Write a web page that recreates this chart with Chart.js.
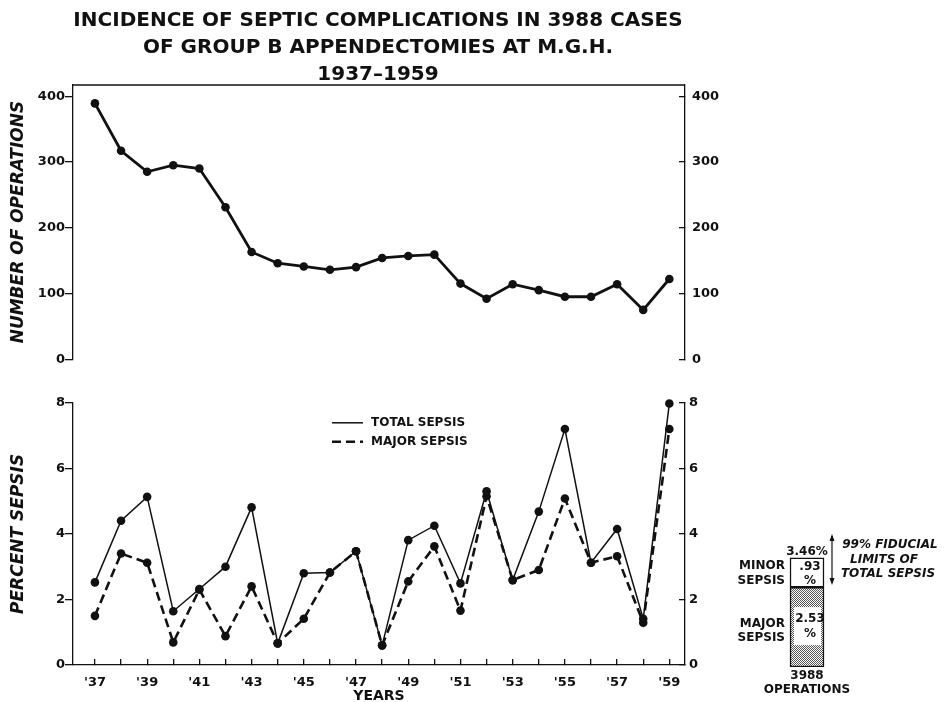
<!DOCTYPE html>
<html>
<head>
<meta charset="utf-8">
<script src="https://cdn.jsdelivr.net/npm/chart.js@4.4.1/dist/chart.umd.min.js"></script>
<style>
    body { margin: 0; background: #fff; width: 944px; height: 702px; position: relative; overflow: hidden; }
    .box { position: absolute; }
</style>
</head>
<body>
<div class="box" style="left:0;top:0;width:756px;height:380px"><canvas id="opsChart"></canvas></div>
<div class="box" style="left:0;top:385px;width:756px;height:317px"><canvas id="sepsisChart"></canvas></div>
<div class="box" style="left:720px;top:500px;width:224px;height:202px"><canvas id="totalChart"></canvas></div>
<script>
// Data - START
const YEARS = [1937, 1938, 1939, 1940, 1941, 1942, 1943, 1944, 1945, 1946, 1947, 1948,
    1949, 1950, 1951, 1952, 1953, 1954, 1955, 1956, 1957, 1958, 1959];
const YEAR_LABELS = ["'37", '', "'39", '', "'41", '', "'43", '', "'45", '', "'47", '',
    "'49", '', "'51", '', "'53", '', "'55", '', "'57", '', "'59"];
const OPERATIONS = [389, 317, 285, 295, 290, 231, 163, 146, 141, 136, 140, 154,
    157, 159, 115, 92, 114, 105, 95, 95, 114, 75, 122];
const TOTAL_SEPSIS = [2.52, 4.4, 5.13, 1.64, 2.32, 3.0, 4.81, 0.66, 2.8, 2.82, 3.47, 0.6,
    3.81, 4.25, 2.49, 5.3, 2.59, 4.68, 7.2, 3.12, 4.15, 1.41, 7.98];
const MAJOR_SEPSIS = [1.5, 3.4, 3.12, 0.69, 2.3, 0.88, 2.4, 0.66, 1.41, 2.82, 3.47, 0.6,
    2.55, 3.62, 1.66, 5.15, 2.59, 2.9, 5.08, 3.12, 3.32, 1.29, 7.2];
const OPS_TICKS = [0, 100, 200, 300, 400];
const SEPSIS_TICKS = [0, 2, 4, 6, 8];
const SERIES_LABELS = ['TOTAL SEPSIS', 'MAJOR SEPSIS'];
const SUMMARY_LABELS = ['MAJOR SEPSIS', 'MINOR SEPSIS'];
const SUMMARY_VALUES = [2.53, 0.93];
const SUMMARY_TOTAL = '3.46%';
const SUMMARY_OPERATIONS = '3988';
const TITLE_LINES = ['INCIDENCE OF SEPTIC COMPLICATIONS IN 3988 CASES',
    'OF GROUP B APPENDECTOMIES AT M.G.H.', '1937\u20131959'];
// Data - END

const INK = '#111';
const FONT = "'DejaVu Sans', 'Liberation Sans', sans-serif";
const X_MIN = 1936.16;
const X_MAX = 1959.6;

Chart.defaults.font.family = FONT;
Chart.defaults.color = INK;
Chart.defaults.animation = false;

let toPoints = (values) => YEARS.map((yr, i) => ({ x: yr, y: values[i] }));

let tickFont = { size: 13, weight: 'bold' };
let axisTitleFont = { size: 17, weight: 'bold', style: 'italic' };

let leftAxis = (min, max, list, title) => ({
    position: 'left', min: min, max: max,
    afterBuildTicks: (s) => { s.ticks = list.map((v) => ({ value: v })); },
    afterFit: (s) => { s.width = 73; },
    grid: { drawOnChartArea: false, tickLength: 8, color: INK, lineWidth: 1.3 },
    border: { color: INK, width: 1.3 },
    ticks: { padding: 0, font: tickFont, color: INK },
    title: { display: true, text: title, font: axisTitleFont, color: INK, padding: { top: 8, bottom: 0 } }
});

let rightAxis = (min, max, list, pad) => ({
    position: 'right', min: min, max: max,
    afterBuildTicks: (s) => { s.ticks = list.map((v) => ({ value: v })); },
    afterFit: (s) => { s.width = 71; },
    grid: { drawOnChartArea: false, tickLength: -6, color: INK, lineWidth: 1.3 },
    border: { color: INK, width: 1.3 },
    ticks: { padding: pad, font: tickFont, color: INK }
});

// top frame line of the operations panel
let topFrame = {
    id: 'topFrame',
    afterDraw(chart) {
        let a = chart.chartArea;
        let ctx = chart.ctx;
        ctx.save();
        ctx.strokeStyle = INK;
        ctx.lineWidth = 1.3;
        ctx.beginPath();
        ctx.moveTo(a.left, a.top);
        ctx.lineTo(a.right, a.top);
        ctx.stroke();
        ctx.restore();
    }
};

new Chart(document.getElementById('opsChart'), {
    type: 'line',
    data: {
        datasets: [{
            label: 'NUMBER OF OPERATIONS',
            data: toPoints(OPERATIONS),
            borderColor: INK,
            backgroundColor: INK,
            borderWidth: 2.8,
            pointRadius: 4.3,
            pointBackgroundColor: INK,
            pointBorderWidth: 0,
            tension: 0,
            yAxisID: 'y'
        }]
    },
    options: {
        responsive: true,
        maintainAspectRatio: false,
        layout: { padding: { top: 0, bottom: 14, left: 0, right: 0 } },
        plugins: {
            legend: { display: false },
            tooltip: { enabled: false },
            title: {
                display: true,
                text: TITLE_LINES,
                color: INK,
                font: { size: 20, weight: 'bold', lineHeight: '27px' },
                padding: { top: 7, bottom: -3 }
            }
        },
        scales: {
            x: { type: 'linear', min: X_MIN, max: X_MAX, display: false },
            y: leftAxis(0, 417, OPS_TICKS, 'NUMBER OF OPERATIONS'),
            y2: rightAxis(0, 417, OPS_TICKS, 13)
        }
    },
    plugins: [topFrame]
});

// legend drawn inside the sepsis panel
let sepsisLegend = {
    id: 'sepsisLegend',
    afterDraw(chart) {
        let ctx = chart.ctx;
        let a = chart.chartArea;
        let x0 = a.left + 259;
        let y0 = a.top + 20;
        ctx.save();
        ctx.font = 'bold 12px ' + FONT;
        ctx.textBaseline = 'middle';
        ctx.fillStyle = INK;
        chart.data.datasets.forEach((ds, i) => {
            let y = y0 + i * 19;
            ctx.strokeStyle = INK;
            ctx.lineWidth = ds.borderWidth;
            ctx.setLineDash(ds.borderDash || []);
            ctx.beginPath();
            ctx.moveTo(x0, y);
            ctx.lineTo(x0 + 31, y);
            ctx.stroke();
            ctx.setLineDash([]);
            ctx.fillText(ds.label, x0 + 39, y);
        });
        ctx.restore();
    }
};

new Chart(document.getElementById('sepsisChart'), {
    type: 'line',
    data: {
        datasets: [{
            label: SERIES_LABELS[0],
            data: toPoints(TOTAL_SEPSIS),
            borderColor: INK,
            backgroundColor: INK,
            borderWidth: 1.5,
            pointRadius: 4.3,
            pointBackgroundColor: INK,
            pointBorderWidth: 0,
            tension: 0,
            clip: false
        }, {
            label: SERIES_LABELS[1],
            data: toPoints(MAJOR_SEPSIS),
            borderColor: INK,
            backgroundColor: INK,
            borderWidth: 2.6,
            borderDash: [9, 5],
            pointRadius: 4.3,
            pointBackgroundColor: INK,
            pointBorderWidth: 0,
            tension: 0,
            clip: false
        }]
    },
    options: {
        responsive: true,
        maintainAspectRatio: false,
        layout: { padding: { top: 14, bottom: 0, left: 0, right: 0 } },
        plugins: {
            legend: { display: false },
            tooltip: { enabled: false }
        },
        scales: {
            x: {
                type: 'linear', min: X_MIN, max: X_MAX, position: 'bottom',
                afterBuildTicks: (s) => { s.ticks = YEARS.map((v) => ({ value: v })); },
                afterFit: (s) => { s.height = 37; },
                grid: { drawOnChartArea: false, tickLength: -6, color: INK, lineWidth: 1.3 },
                border: { color: INK, width: 1.3 },
                ticks: {
                    padding: 16, autoSkip: false, maxRotation: 0, font: tickFont, color: INK,
                    callback: (v, i) => YEAR_LABELS[i]
                },
                title: { display: true, text: 'YEARS', font: { size: 14, weight: 'bold' }, color: INK, padding: { top: 0, bottom: -3 } }
            },
            y: leftAxis(0, 8, SEPSIS_TICKS, 'PERCENT SEPSIS'),
            y2: rightAxis(0, 8, SEPSIS_TICKS, 10)
        }
    },
    plugins: [sepsisLegend]
});

// summary bar: stippled major sepsis, open minor sepsis
let makeStipple = () => {
    let c = document.createElement('canvas');
    c.width = 2;
    c.height = 2;
    let g = c.getContext('2d');
    g.fillStyle = '#fff';
    g.fillRect(0, 0, 2, 2);
    g.fillStyle = '#555';
    g.fillRect(0, 0, 1, 1);
    g.fillRect(1, 1, 1, 1);
    return g.createPattern(c, 'repeat');
};

let summaryNotes = {
    id: 'summaryNotes',
    afterDraw(chart) {
        let ctx = chart.ctx;
        let major = chart.getDatasetMeta(0).data[0];
        let minor = chart.getDatasetMeta(1).data[0];
        let cx = major.x;
        let left = cx - major.width / 2;
        let right = cx + major.width / 2;
        let bottom = major.base;
        let mid = major.y;
        let top = minor.y;
        let minorMid = (top + mid) / 2;
        let majorMid = (mid + bottom) / 2;
        ctx.save();
        ctx.fillStyle = INK;
        ctx.font = 'bold 12px ' + FONT;
        ctx.textAlign = 'center';
        ctx.textBaseline = 'middle';
        ctx.fillText(SUMMARY_TOTAL, cx, top - 6);
        ctx.fillText('.' + String(SUMMARY_VALUES[1]).split('.')[1], cx + 3, minorMid - 6);
        ctx.fillText('%', cx + 3, minorMid + 8);
        ctx.fillStyle = '#fff';
        ctx.fillRect(left + 4, majorMid - 20, major.width - 7, 38);
        ctx.fillStyle = INK;
        ctx.fillText(String(SUMMARY_VALUES[0]), cx + 3, majorMid - 8);
        ctx.fillText('%', cx + 3, majorMid + 7);
        ctx.textAlign = 'right';
        let minorWords = SUMMARY_LABELS[1].split(' ');
        let majorWords = SUMMARY_LABELS[0].split(' ');
        ctx.fillText(minorWords[0], left - 5, minorMid - 7);
        ctx.fillText(minorWords[1], left - 5, minorMid + 8);
        ctx.fillText(majorWords[0], left - 5, majorMid - 3);
        ctx.fillText(majorWords[1], left - 5, majorMid + 11);
        ctx.textAlign = 'center';
        ctx.fillText(SUMMARY_OPERATIONS, cx, bottom + 9);
        ctx.fillText('OPERATIONS', cx, bottom + 23);
        // arrow
        let ax = right + 8;
        ctx.strokeStyle = INK;
        ctx.lineWidth = 1.2;
        ctx.beginPath();
        ctx.moveTo(ax, top - 22);
        ctx.lineTo(ax, top + 25);
        ctx.stroke();
        ctx.beginPath();
        ctx.moveTo(ax, top - 24);
        ctx.lineTo(ax - 2.5, top - 17);
        ctx.lineTo(ax + 2.5, top - 17);
        ctx.closePath();
        ctx.moveTo(ax, top + 27);
        ctx.lineTo(ax - 2.5, top + 20);
        ctx.lineTo(ax + 2.5, top + 20);
        ctx.closePath();
        ctx.fill();
        ctx.font = 'italic bold 12px ' + FONT;
        ctx.fillText('99% FIDUCIAL', ax + 58, top - 13);
        ctx.fillText('LIMITS OF', ax + 52, top + 2);
        ctx.fillText('TOTAL SEPSIS', ax + 56, top + 16);
        ctx.restore();
    }
};

new Chart(document.getElementById('totalChart'), {
    type: 'bar',
    data: {
        labels: [''],
        datasets: [{
            label: SUMMARY_LABELS[0],
            data: [SUMMARY_VALUES[0]],
            backgroundColor: makeStipple(),
            borderColor: INK,
            borderWidth: 1.5,
            borderSkipped: false,
            barThickness: 34
        }, {
            label: SUMMARY_LABELS[1],
            data: [SUMMARY_VALUES[1]],
            backgroundColor: '#fff',
            borderColor: INK,
            borderWidth: 1.5,
            borderSkipped: false,
            barThickness: 34
        }]
    },
    options: {
        responsive: true,
        maintainAspectRatio: false,
        layout: { padding: { left: 57, right: 107, top: 27, bottom: 35 } },
        plugins: {
            legend: { display: false },
            tooltip: { enabled: false }
        },
        scales: {
            x: { display: false, stacked: true },
            y: { display: false, stacked: true, min: 0, max: 4.44 }
        }
    },
    plugins: [summaryNotes]
});
</script>
</body>
</html>
